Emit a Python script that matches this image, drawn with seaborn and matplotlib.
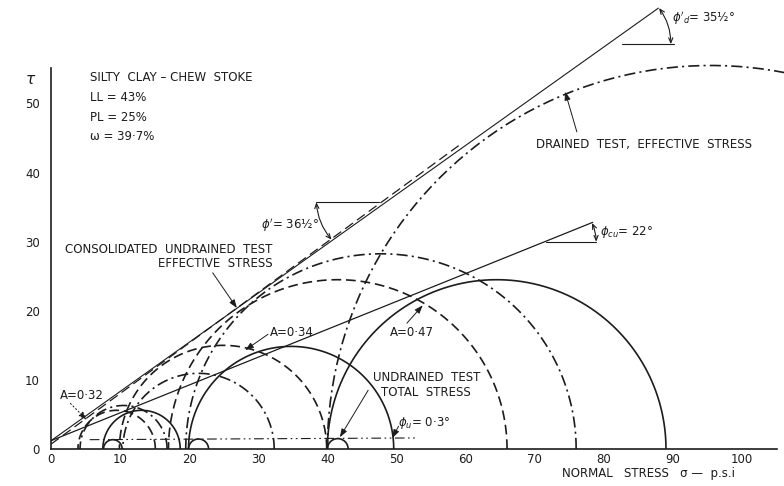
import numpy as np
import pandas as pd
import matplotlib
matplotlib.use("Agg")
import matplotlib.pyplot as plt
import seaborn as sns

# Mohr circles, psi: (sigma3, sigma1)
uu_s3 = [7.6, 19.9, 40.0]          # undrained, total stress
uu_s1 = [10.3, 22.8, 43.0]
cu_s3 = [7.5, 19.9, 40.0]          # consolidated undrained, total stress
cu_s1 = [18.7, 49.6, 89.0]
cue_s3 = [3.9, 9.9, 17.0]          # consolidated undrained, effective stress
cue_s1 = [15.1, 39.9, 66.0]
a_values = ["0·32", "0·34", "0·47"]
dr_s3 = [4.2, 10.4, 19.5, 40.0]    # drained, effective stress
dr_s1 = [16.8, 32.3, 76.0, 151.0]

# failure envelopes (end points)
env_d_x, env_d_y = [0, 87.9], [1.2, 63.8]        # phi'd = 35.5
env_e_x, env_e_y = [0, 59.0], [0.7, 43.9]        # phi' = 36.5
env_cu_x, env_cu_y = [0, 78.4], [1.2, 32.8]      # phi_cu = 22
env_u_x, env_u_y = [5.6, 53.0], [1.35, 1.6]      # phi_u = 0.3

x_ticks = [0, 10, 20, 30, 40, 50, 60, 70, 80, 90, 100]
y_ticks = [0, 10, 20, 30, 40, 50]

sns.set_style("white")
plt.rcParams["font.family"] = ["DejaVu Sans"]
plt.rcParams["lines.scale_dashes"] = False

ink = "#1c1c1c"
fig = plt.figure(figsize=(7.84, 4.86), dpi=100)
ax = fig.add_axes([0.06505, 0.07613, 0.9369, 0.9228])
ax.set_xlim(0, 106.3)
ax.set_ylim(0, 64.9)

dashed = (0, (7, 3.5))
dashdot = (0, (8, 3, 1.5, 3))
dashdotdot = (0, (7, 2.5, 1.2, 2.5, 1.2, 2.5))


def semicircle(s3, s1):
    t = np.linspace(0, np.pi, 200)
    c, r = (s3 + s1) / 2, (s1 - s3) / 2
    return pd.DataFrame({"x": c + r * np.cos(t), "y": r * np.sin(t)})


def draw_circles(s3s, s1s, ls, lw):
    for s3, s1 in zip(s3s, s1s):
        df = semicircle(s3, s1)
        sns.lineplot(data=df, x="x", y="y", sort=False, estimator=None,
                     ax=ax, color=ink, linewidth=lw, linestyle=ls)


draw_circles(uu_s3, uu_s1, "-", 1.2)
draw_circles(cu_s3, cu_s1, "-", 1.2)
draw_circles(cue_s3, cue_s1, dashed, 1.2)
draw_circles(dr_s3, dr_s1, dashdot, 1.2)

sns.lineplot(x=env_d_x, y=env_d_y, ax=ax, color=ink, linewidth=0.8)
sns.lineplot(x=env_e_x, y=env_e_y, ax=ax, color=ink, linewidth=0.9, linestyle=dashed)
sns.lineplot(x=env_cu_x, y=env_cu_y, ax=ax, color=ink, linewidth=0.9)
sns.lineplot(x=env_u_x, y=env_u_y, ax=ax, color=ink, linewidth=0.8, linestyle=dashdotdot)

# angle markers
ax.plot([82.6, 90.2], [58.6, 58.6], color=ink, lw=0.8)
ax.plot([38.4, 47.5], [35.7, 35.7], color=ink, lw=0.8)
ax.plot([71.6, 78.9], [30.0, 30.0], color=ink, lw=0.8)
arc = dict(arrowstyle="<->,head_length=0.35,head_width=0.15", color=ink, lw=0.8,
           shrinkA=0, shrinkB=0)
ax.annotate("", xy=(89.7, 58.6), xytext=(88.0, 63.8),
            arrowprops=dict(arc, connectionstyle="arc3,rad=-0.16"))
ax.annotate("", xy=(40.6, 30.3), xytext=(38.4, 35.7),
            arrowprops=dict(arc, connectionstyle="arc3,rad=0.16"))
ax.annotate("", xy=(78.9, 30.0), xytext=(78.3, 32.7),
            arrowprops=dict(arc, connectionstyle="arc3,rad=-0.1"))

fs = 8.5
txt = dict(color=ink, fontsize=fs, va="center")
ax.text(5.6, 53.7, "SILTY  CLAY – CHEW  STOKE", **txt)
ax.text(5.6, 50.9, "LL = 43%", **txt)
ax.text(5.6, 48.0, "PL = 25%", **txt)
ax.text(5.6, 45.2, "ω = 39·7%", **txt)
ax.text(-3.0, 53.4, "τ", ha="center", color=ink, fontsize=11, va="center",
        style="italic")
ax.text(32.1, 28.8, "CONSOLIDATED  UNDRAINED  TEST", ha="right", **txt)
ax.text(32.1, 26.8, "EFFECTIVE  STRESS", ha="right", **txt)
ax.text(70.2, 44.0, "DRAINED  TEST,  EFFECTIVE  STRESS", **txt)
ax.text(31.7, 16.8, f"A={a_values[1]}", **txt)
ax.text(49.1, 16.8, f"A={a_values[2]}", **txt)
ax.text(1.3, 7.8, f"A={a_values[0]}", **txt)
ax.text(54.3, 10.4, "UNDRAINED  TEST", ha="center", **txt)
ax.text(54.3, 8.2, "TOTAL  STRESS", ha="center", **txt)
ax.text(50.2, 3.8, r"$\phi_u$= 0·3°", **txt)
ax.text(30.4, 32.4, r"$\phi'$= 36½°", **txt)
ax.text(89.9, 62.4, r"$\phi'_d$= 35½°", **txt)
ax.text(79.5, 31.4, r"$\phi_{cu}$= 22°", **txt)
ax.text(74.0, -3.5, "NORMAL   STRESS   σ —  p.s.i", clip_on=False, **txt)

arr = dict(arrowstyle="-|>,head_length=0.5,head_width=0.18", color=ink, lw=0.7,
           shrinkA=0, shrinkB=0)
ax.annotate("", xy=(26.9, 20.4), xytext=(23.4, 25.5), arrowprops=arr)
ax.annotate("", xy=(74.4, 51.7), xytext=(76.1, 45.9), arrowprops=arr)
ax.annotate("", xy=(28.1, 14.3), xytext=(31.4, 16.6), arrowprops=arr)
ax.annotate("", xy=(53.8, 20.8), xytext=(51.5, 18.2), arrowprops=arr)
ax.annotate("", xy=(5.2, 4.2), xytext=(2.8, 6.6), arrowprops=dict(arr, linestyle=":"))
ax.annotate("", xy=(41.8, 1.7), xytext=(45.9, 8.5), arrowprops=arr)
ax.annotate("", xy=(49.4, 1.6), xytext=(50.3, 3.3), arrowprops=arr)

# axes styling
for side in ["top", "right"]:
    ax.spines[side].set_visible(False)
ax.spines["left"].set_bounds(0, 55.2)
ax.spines["bottom"].set_bounds(0, 105)
for side in ["left", "bottom"]:
    ax.spines[side].set_linewidth(1.2)
    ax.spines[side].set_color(ink)
ax.set_xticks(x_ticks)
ax.set_yticks(y_ticks)
ax.tick_params(direction="in", length=4, width=0.9, colors=ink, labelsize=8.5)
ax.tick_params(axis="x", pad=3)
ax.tick_params(axis="y", pad=8)
ax.set_xlabel("")
ax.set_ylabel("")

fig.savefig("out.png", dpi=100)
